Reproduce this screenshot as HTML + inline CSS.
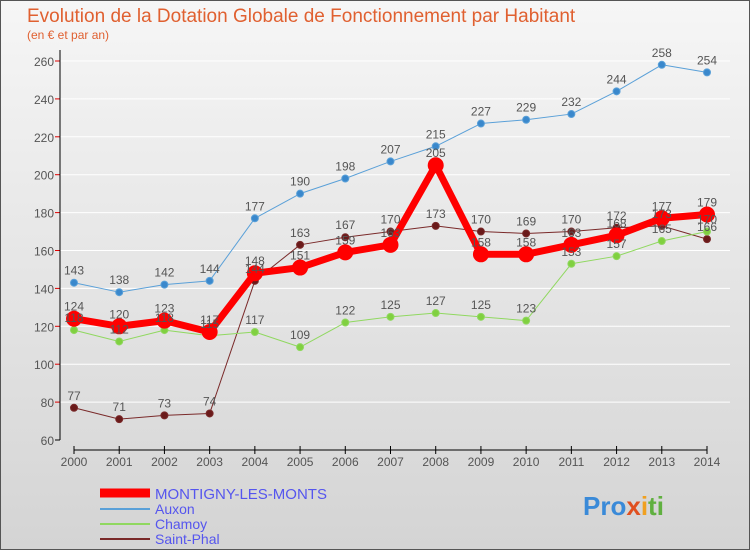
<!DOCTYPE html>
<html><head><meta charset="utf-8"><style>
body{margin:0;width:750px;height:550px;overflow:hidden;font-family:"Liberation Sans",sans-serif}
</style></head><body>
<svg width="750" height="550" xmlns="http://www.w3.org/2000/svg">
<defs><linearGradient id="bg" x1="0" y1="0" x2="0" y2="1"><stop offset="0" stop-color="#f6f6f6"/><stop offset="1" stop-color="#d4d4d4"/></linearGradient></defs>
<rect x="0.5" y="0.5" width="749" height="549" fill="url(#bg)" stroke="#555"/>
<text x="27" y="22" font-size="19" fill="#e06030">Evolution de la Dotation Globale de Fonctionnement par Habitant</text>
<text x="27" y="39" font-size="12" fill="#e06030">(en € et par an)</text>
<g id="grid"></g><g id="axes"></g><g id="series"></g><g id="labels"></g>
<g>
<line x1="100" y1="493" x2="150" y2="493" stroke="#ff0000" stroke-width="9"/>
<text x="155" y="499" font-size="15" fill="#5555ee">MONTIGNY-LES-MONTS</text>
<line x1="100" y1="509" x2="150" y2="509" stroke="#5aa0d8" stroke-width="2"/>
<text x="155" y="514" font-size="14" fill="#5555ee">Auxon</text>
<line x1="100" y1="524" x2="150" y2="524" stroke="#90d860" stroke-width="2"/>
<text x="155" y="529" font-size="14" fill="#5555ee">Chamoy</text>
<line x1="100" y1="539" x2="150" y2="539" stroke="#7a2a2a" stroke-width="2"/>
<text x="155" y="544" font-size="14" fill="#5555ee">Saint-Phal</text>
</g>
<text x="583" y="515" font-size="26" font-weight="bold" fill="#3a8ad8">Pro<tspan fill="#e05020">x</tspan><tspan fill="#f0a020">i</tspan><tspan fill="#60b040">ti</tspan></text>
</svg>
<script>
const years=[2000,2001,2002,2003,2004,2005,2006,2007,2008,2009,2010,2011,2012,2013,2014];
const montigny=[124,120,123,117,148,151,159,163,205,158,158,163,168,177,179];
const auxon=[143,138,142,144,177,190,198,207,215,227,229,232,244,258,254];
const chamoy=[118,112,118,115,117,109,122,125,127,125,123,153,157,165,170];
const saintPhal=[77,71,73,74,144,163,167,170,173,170,169,170,172,173,166];
const yTicks=[60,80,100,120,140,160,180,200,220,240,260];
const NS="http://www.w3.org/2000/svg";
const x=i=>74+i*(707-74)/(years.length-1);
const y=v=>440-(v-60)*379/200;
function mk(tag,attrs,parent){const e=document.createElementNS(NS,tag);for(const k in attrs)e.setAttribute(k,attrs[k]);document.getElementById(parent).appendChild(e);return e;}
yTicks.forEach(t=>{
 if(t>60){const g=mk('line',{x1:60,x2:730,y1:y(t),y2:y(t),stroke:'#ffffff','stroke-width':1},'grid');
 
 }
 const tk=mk('line',{x1:55,x2:60,y1:y(t),y2:y(t),stroke:t==60?'#000':'#e00000'},'axes');
 
 
 const l=mk('text',{x:54,y:y(t)+5,'font-size':12,'text-anchor':'end',fill:'#555'},'axes');l.textContent=t;
 
 
});
let a=mk('line',{x1:60,x2:60,y1:50,y2:440,stroke:'#000'},'axes');


a=mk('line',{x1:74,x2:707,y1:450,y2:450,stroke:'#000'},'axes');


years.forEach((yr,i)=>{
 const t=mk('line',{x1:x(i),x2:x(i),y1:446,y2:454,stroke:'#000'},'axes');
 
 
 const l=mk('text',{x:x(i),y:466,'font-size':12,'text-anchor':'middle',fill:'#555'},'axes');l.textContent=yr;
 
 
});
function series(data,name,color,w,r,dot){
 const p=mk('polyline',{points:data.map((v,i)=>x(i)+','+y(v)).join(' '),fill:'none',stroke:color,'stroke-width':w,'stroke-linejoin':'round'},'series');
 
 
 data.forEach((v,i)=>{
  const c=mk('circle',{cx:x(i),cy:y(v),r:r,fill:dot,stroke:color,'stroke-width':1},'series');
  
  
  const l=mk('text',{x:x(i),y:y(v)-8,'font-size':12,'text-anchor':'middle',fill:'#555'},'labels');l.textContent=v;
  
  
 });
}
series(saintPhal,'saint-phal','#7a2a2a',1,3.5,'#6a1a1a');
series(chamoy,'chamoy','#90d860',1,3.5,'#80d040');
series(auxon,'auxon','#5aa0d8',1,3.5,'#3a88cc');
series(montigny,'montigny','#ff0000',7,7.5,'#ff0000');
</script>
</body></html>
